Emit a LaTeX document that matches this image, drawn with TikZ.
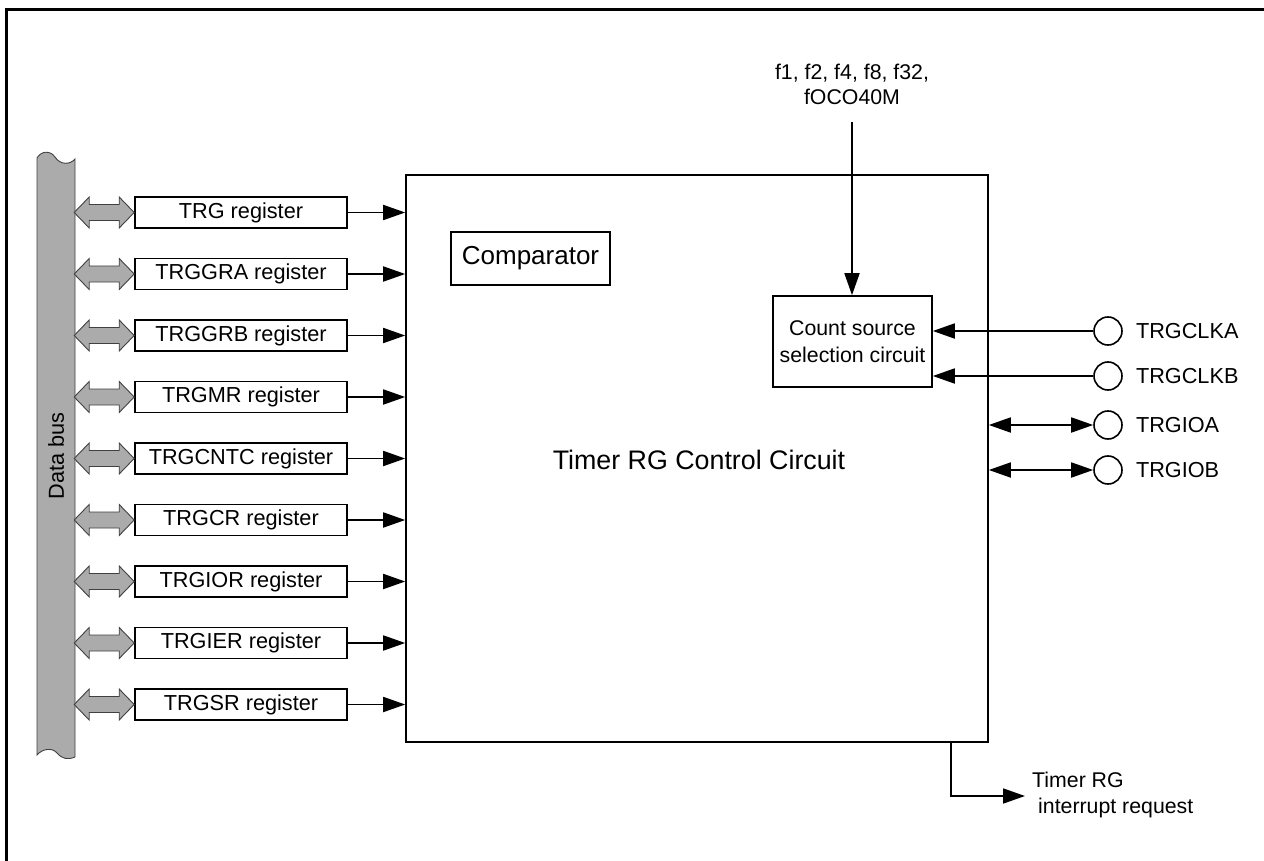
\documentclass[tikz,border=0pt]{standalone}
\usepackage{fontspec}
\setmainfont{Liberation Sans}
\usetikzlibrary{arrows.meta,calc}
\begin{document}
\begin{tikzpicture}[x=1pt,y=-1pt,
  font=\fontsize{21.7}{25}\selectfont,
  box/.style={draw,line width=1.6pt,inner sep=0pt},
  reg/.style={box,minimum width=212pt,minimum height=31pt},
  conn/.style={line width=1.8pt,-{Triangle[length=22pt,width=15pt]}},
  bidir/.style={line width=1.8pt,{Triangle[length=22pt,width=15pt]}-{Triangle[length=22pt,width=15pt]}},
  pin/.style={circle,draw,line width=1.6pt,minimum size=28pt,inner sep=0pt},
  busfill/.style={fill=black!33,draw=black!75,line width=0.9pt}]
\useasboundingbox (0,0) rectangle (1264,861);
% frame
\draw[line width=3pt] (6,861) -- (6,10) -- (1264,10);
% data bus
\draw[busfill] (37,158) .. controls (41,151) and (50,150) .. (55,157)
  .. controls (60,165) and (70,165) .. (75,159) -- (75,757)
  .. controls (68,760) and (62,759) .. (57,753)
  .. controls (52,747) and (42,749) .. (37,755) -- cycle;
\node[rotate=90] (buslbl) at (56,456) {Data bus};
% main block
\node[box,minimum width=582pt,minimum height=567pt] (main) at (697,458.5) {};
\node (mainlbl) at (699,460) {\fontsize{26.8}{30}\selectfont Timer RG Control Circuit};
\node[box,minimum width=159pt,minimum height=53pt] (comp) at (530.5,258.5) {\fontsize{26}{30}\selectfont Comparator};
\node[box,minimum width=159pt,minimum height=91pt,align=center,font=\fontsize{21.3}{27}\selectfont] (count) at (852.5,341.5) {Count source\\selection circuit};
% registers
\foreach \n [count=\i from 0] in {TRG,TRGGRA,TRGGRB,TRGMR,TRGCNTC,TRGCR,TRGIOR,TRGIER,TRGSR} {
  \node[reg] (r\i) at (241,{212.5+61.5*\i}) {\n\ register};
  \draw[conn] (r\i.east) -- (r\i.east -| main.west);
  \draw[busfill] (r\i.west) ++(-60,0) -- ++(15,-15.5) -- ++(0,7.5) -- ++(30,0) -- ++(0,-7.5)
    -- ++(15,15.5) -- ++(-15,15.5) -- ++(0,-7.5) -- ++(-30,0) -- ++(0,7.5) -- cycle;
}
% clock input
\node[align=center,font=\fontsize{21.3}{25}\selectfont] (fin) at (852,84) {f1, f2, f4, f8, f32,\\fOCO40M};
\coordinate (fstart) at (852,122);
\draw[conn] (fstart) -- (fstart |- count.north);
% pins
\foreach \nm/\lb/\yy in {clka/TRGCLKA/331,clkb/TRGCLKB/376,ioa/TRGIOA/425,iob/TRGIOB/470} {
  \node[pin] (\nm) at (1108,\yy) {};
  \node[anchor=west,inner sep=0pt] (\nm l) at ([xshift=13pt]\nm.east) {\lb};
}
\draw[conn] (clka.west) -- (clka.west -| count.east);
\draw[conn] (clkb.west) -- (clkb.west -| count.east);
\draw[bidir] (ioa.west -| main.east) -- (ioa.west);
\draw[bidir] (iob.west -| main.east) -- (iob.west);
% interrupt
\coordinate (irqs) at ($(main.south east)+(-38,0)$);
\coordinate (irqe) at (1025,796);
\draw[conn] (irqs) |- (irqe);
\node[anchor=west,align=left,inner sep=0pt,font=\fontsize{21.3}{26}\selectfont] (irql) at (1032,795) {Timer RG\\\hspace{6pt}interrupt request};
\end{tikzpicture}
\end{document}
